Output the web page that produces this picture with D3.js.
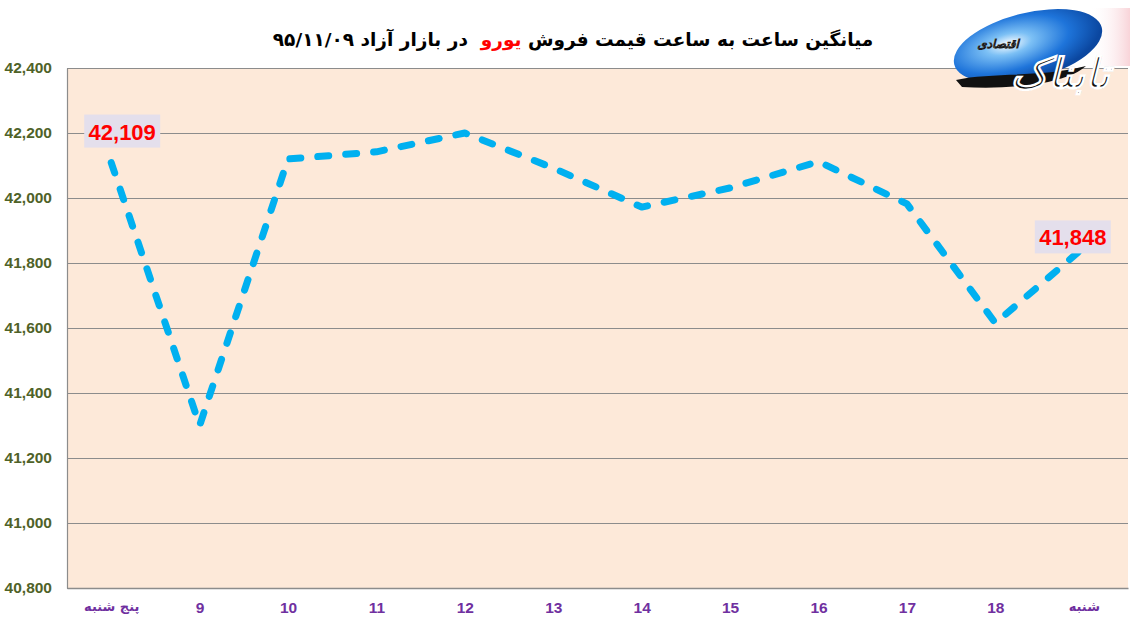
<!DOCTYPE html>
<html>
<head>
<meta charset="utf-8">
<script src="https://cdn.jsdelivr.net/npm/d3@7/dist/d3.min.js"></script>
<style>
  html, body { margin: 0; padding: 0; background: #ffffff; }
  svg { display: block; }
</style>
</head>
<body>
<svg id="chart" width="1130" height="628"></svg>
<script>
// ---- data ----
const categories = ["پنج شنبه", "9", "10", "11", "12", "13", "14", "15", "16", "17", "18", "شنبه"];
const values = [42109, 41300, 42120, 42142, 42200, 42092, 41972, 42031, 42112, 41982, 41615, 41848];
const yTickValues = [40800, 41000, 41200, 41400, 41600, 41800, 42000, 42200, 42400];
const labeledIndex = [0, 11];
const titleParts = [
  { text: "میانگین ساعت به ساعت قیمت فروش ", red: false },
  { text: "یورو", red: true },
  { text: "  در بازار آزاد ۹۵/۱۱/۰۹", red: false }
];
const logoMain = "تابناک";
const logoSub = "اقتصادی";

// ---- layout ----
const W = 1130, H = 628;
const plot = { left: 67, right: 1128, top: 68, bottom: 588 };
const svg = d3.select("#chart");

const x = d3.scalePoint().domain(categories).range([plot.left, plot.right]).padding(0.5);
const y = d3.scaleLinear().domain([40800, 42400]).range([plot.bottom, plot.top]);

const defs = svg.append("defs");

// plot background
svg.append("rect")
  .attr("x", plot.left).attr("y", plot.top)
  .attr("width", plot.right - plot.left).attr("height", plot.bottom - plot.top)
  .attr("fill", "#FDE9D9");

// gridlines
const grid = svg.append("g")
  .attr("transform", `translate(${plot.left},0)`)
  .call(d3.axisLeft(y).tickValues(yTickValues).tickSize(-(plot.right - plot.left)).tickFormat(""));
grid.select(".domain").remove();
grid.selectAll(".tick line").attr("stroke", "#8C8C8C").attr("stroke-width", 1.2);

// y axis
const yAxis = svg.append("g")
  .attr("transform", `translate(${plot.left},0)`)
  .call(d3.axisLeft(y).tickValues(yTickValues).tickSize(0).tickPadding(15).tickFormat(d3.format(",")));
yAxis.select(".domain").attr("stroke", "#8C8C8C").attr("stroke-width", 1.2);
yAxis.selectAll("text")
  .attr("fill", "#4F6228")
  .attr("font-family", "'Liberation Sans', Arial, sans-serif")
  .attr("font-weight", "bold")
  .attr("font-size", 15.5);

// x axis
const xAxis = svg.append("g")
  .attr("transform", `translate(0,${plot.bottom})`)
  .call(d3.axisBottom(x).tickSize(0).tickPadding(14));
xAxis.select(".domain").attr("stroke", "#8C8C8C").attr("stroke-width", 1.5);
xAxis.selectAll("text")
  .attr("fill", "#7030A0")
  .attr("font-family", d => isNaN(+d) ? "'DejaVu Sans', sans-serif" : "'Liberation Sans', Arial, sans-serif")
  .attr("font-weight", "bold")
  .attr("font-size", d => isNaN(+d) ? 13 : 15.5)
  .attr("direction", d => isNaN(+d) ? "rtl" : "ltr");

// line
const line = d3.line()
  .x((d, i) => x(categories[i]))
  .y(d => y(d));
svg.append("path")
  .datum(values)
  .attr("d", line)
  .attr("fill", "none")
  .attr("stroke", "#00B0F0")
  .attr("stroke-width", 7)
  .attr("stroke-linecap", "round")
  .attr("stroke-linejoin", "round")
  .attr("stroke-dasharray", "11 17");

// data labels
const labelOffsets = { 0: { dx: 11, dy: -31 }, 11: { dx: -11, dy: -10 } };
labeledIndex.forEach(i => {
  const px = x(categories[i]), py = y(values[i]);
  const o = labelOffsets[i];
  const cx = px + o.dx, cy = py + o.dy;
  const g = svg.append("g");
  g.append("rect")
    .attr("x", cx - 38).attr("y", cy - 17)
    .attr("width", 76).attr("height", 33)
    .attr("fill", "#E4DFEC");
  g.append("text")
    .attr("x", cx).attr("y", cy + 8)
    .attr("text-anchor", "middle")
    .attr("fill", "#FF0000")
    .attr("font-family", "'Liberation Sans', Arial, sans-serif")
    .attr("font-weight", "bold")
    .attr("font-size", 22)
    .text(d3.format(",")(values[i]));
});

// title
const title = svg.append("text")
  .attr("x", 573).attr("y", 46)
  .attr("text-anchor", "middle")
  .attr("direction", "rtl")
  .attr("font-family", "'DejaVu Sans', sans-serif")
  .attr("font-weight", "bold")
  .attr("font-size", 18.5);
titleParts.forEach(p => {
  title.append("tspan")
    .attr("fill", p.red ? "#FF0000" : "#000000")
    .style("white-space", "pre")
    .text(p.text);
});

// logo
const rg = defs.append("radialGradient").attr("id", "logoGrad")
  .attr("cx", "38%").attr("cy", "40%").attr("r", "62%");
rg.append("stop").attr("offset", "0%").attr("stop-color", "#FFFFFF");
rg.append("stop").attr("offset", "25%").attr("stop-color", "#7CC0F5");
rg.append("stop").attr("offset", "65%").attr("stop-color", "#1E74DA");
rg.append("stop").attr("offset", "100%").attr("stop-color", "#0B47A0");
const pg = defs.append("linearGradient").attr("id", "pinkGrad")
  .attr("x1", "0%").attr("x2", "100%");
pg.append("stop").attr("offset", "0%").attr("stop-color", "#FFFFFF").attr("stop-opacity", 0);
pg.append("stop").attr("offset", "100%").attr("stop-color", "#F7C9CF").attr("stop-opacity", 0.8);

const logo = svg.append("g");
logo.append("rect").attr("x", 1090).attr("y", 8).attr("width", 40).attr("height", 58).attr("fill", "url(#pinkGrad)");
logo.append("ellipse")
  .attr("cx", 1028).attr("cy", 46).attr("rx", 76).attr("ry", 33)
  .attr("transform", "rotate(-14,1028,46)")
  .attr("fill", "url(#logoGrad)");
logo.append("path")
  .attr("d", "M956,80 C990,72 1040,78 1086,66 C1066,84 1010,90 962,87 Z")
  .attr("fill", "#111111");
logo.append("text")
  .attr("x", 1060).attr("y", 88)
  .attr("text-anchor", "middle")
  .attr("direction", "rtl")
  .attr("font-family", "'DejaVu Sans', sans-serif")
  .attr("font-weight", "bold")
  .attr("font-style", "italic")
  .attr("font-size", 42)
  .attr("fill", "#111111")
  .attr("stroke", "#FFFFFF")
  .attr("stroke-width", 1)
  .text(logoMain);
logo.append("text")
  .attr("x", 998).attr("y", 48)
  .attr("text-anchor", "middle")
  .attr("direction", "rtl")
  .attr("font-family", "'DejaVu Sans', sans-serif")
  .attr("font-weight", "bold")
  .attr("font-style", "italic")
  .attr("font-size", 12)
  .attr("fill", "#FFFFFF")
  .attr("stroke", "#1a1a1a")
  .attr("stroke-width", 0.5)
  .text(logoSub);
</script>
</body>
</html>
